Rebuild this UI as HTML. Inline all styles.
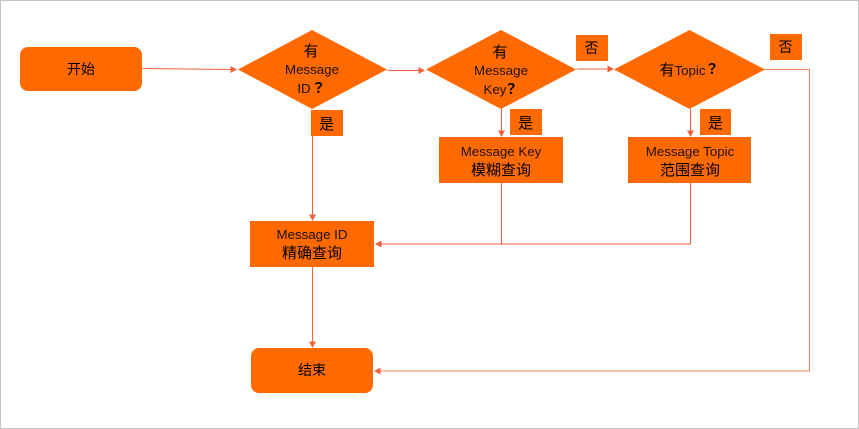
<!DOCTYPE html>
<html>
<head>
<meta charset="utf-8">
<style>
html,body{margin:0;padding:0;background:#fff;width:859px;height:429px;overflow:hidden}
svg{display:block}
text{font-family:"Liberation Sans","Noto Sans CJK SC",sans-serif;fill:#1f1000;text-anchor:middle}
.c{font-size:14px;fill:#000}
.d{font-size:15px;fill:#000}
.m{font-size:13.3px}
.q{font-family:"Noto Sans CJK JP",sans-serif;font-size:14px;font-weight:700;fill:#000}
.l{fill:none;stroke:#f4603c;stroke-width:1}
.a{fill:#f4603c}
.o{fill:#ff6a00}
</style>
</head>
<body>
<svg width="859" height="429" viewBox="0 0 859 429" xmlns="http://www.w3.org/2000/svg">
<rect x="0.5" y="0.5" width="858" height="428" fill="#fff" stroke="#c4c4c4"/>

<!-- connectors -->
<path class="l" d="M142.5 68.5L232 69.5"/>
<path class="l" d="M387.500 70.500H420"/>
<path class="l" d="M576.500 69H608"/>
<path class="l" d="M765 69.500H809.500V371H380" stroke-opacity="0.8"/>
<path class="l" d="M312.500 136V216"/>
<path class="l" d="M501.500 109V132"/>
<path class="l" d="M690.500 109V132"/>
<path class="l" d="M501.500 183V244"/>
<path class="l" d="M690.500 183V244H380"/>
<path class="l" d="M312.500 267V343"/>

<!-- arrowheads -->
<path class="a" d="M237 69.500L230.500 66V73Z"/>
<path class="a" d="M425 70.500L418.500 67V74Z"/>
<path class="a" d="M614 69L607.500 65.500V72.500Z"/>
<path class="a" d="M375 244L381.500 240.500V247.500Z"/>
<path class="a" d="M374 371L380.500 367.500V374.500Z"/>
<path class="a" d="M312.500 221L309 214.500H316Z"/>
<path class="a" d="M501.500 137L498 130.500H505Z"/>
<path class="a" d="M690.500 137L687 130.500H694Z"/>
<path class="a" d="M312.500 348L309 341.500H316Z"/>

<!-- start / end -->
<rect class="o" x="20" y="47" width="122" height="44" rx="8"/>
<rect class="o" x="251" y="348" width="122" height="45" rx="8"/>
<text class="c" x="81" y="74">开始</text>
<text class="c" x="312" y="375">结束</text>

<!-- diamonds -->
<path class="o" d="M312 30L387 69.500L312 109L238 69.500Z"/>
<path class="o" d="M501 30L576 69.500L501 109L426 69.500Z"/>
<path class="o" d="M689.500 30L765 69.500L689.500 109L614 69.500Z"/>

<text class="d" x="311" y="56">有</text>
<text class="m" x="312" y="74">Message</text>
<text class="m" x="304" y="93">ID</text>
<text class="q" x="318.500" y="93">？</text>

<text class="d" x="500" y="57">有</text>
<text class="m" x="501" y="75">Message</text>
<text class="m" x="495" y="94">Key</text>
<text class="q" x="511" y="94">？</text>

<text class="d" x="667" y="75">有</text>
<text class="m" x="690" y="75">Topic</text>
<text class="q" x="712" y="74">？</text>

<!-- yes / no labels -->
<rect class="o" x="311" y="110" width="32" height="26"/>
<rect class="o" x="510" y="109" width="32" height="26"/>
<rect class="o" x="700" y="109" width="31" height="26"/>
<rect class="o" x="576" y="35" width="32" height="26"/>
<rect class="o" x="770" y="34" width="32" height="26"/>
<text class="d" x="326.500" y="129">是</text>
<text class="d" x="525.500" y="128">是</text>
<text class="d" x="715.500" y="128">是</text>
<text class="c" x="591.500" y="53">否</text>
<text class="c" x="785.500" y="52">否</text>

<!-- process boxes -->
<rect class="o" x="439" y="137" width="124" height="46"/>
<rect class="o" x="628" y="137" width="123" height="46"/>
<rect class="o" x="250" y="221" width="124" height="46"/>

<text class="m" x="501" y="156">Message Key</text>
<text class="d" x="501" y="175">模糊查询</text>
<text class="m" x="690" y="156">Message Topic</text>
<text class="d" x="690" y="175">范围查询</text>
<text class="m" x="312" y="239">Message ID</text>
<text class="d" x="312" y="258">精确查询</text>
</svg>
</body>
</html>
